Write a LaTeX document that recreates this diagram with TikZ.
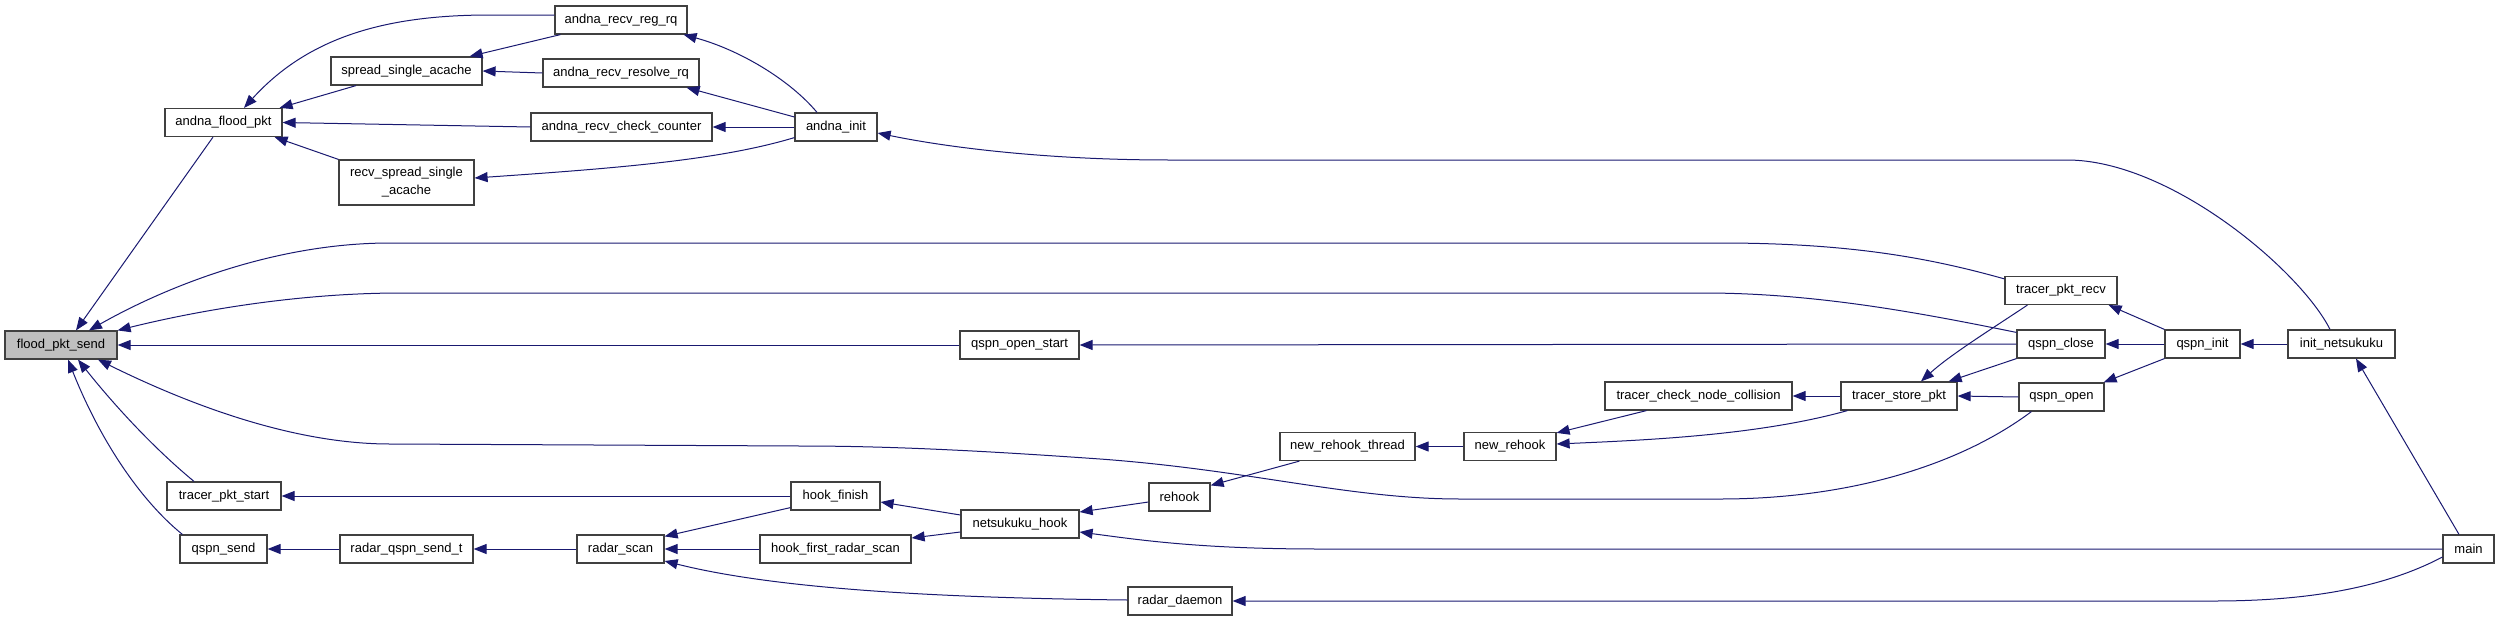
\documentclass[tikz,border=0pt]{standalone}
\usepackage{fontspec}
\setmainfont{Liberation Sans}
\usetikzlibrary{arrows.meta}
\definecolor{edgecol}{HTML}{191970}
\definecolor{boxline}{HTML}{404040}
\definecolor{focusfill}{HTML}{BFBFBF}
\tikzset{
  box/.style={draw=boxline, line width=1.2pt, fill=white, minimum height=28pt,
    inner sep=0pt, align=center, font=\fontsize{13}{18}\selectfont},
  e/.style={draw=edgecol, line width=1pt, -{Triangle[length=13pt,width=10pt]}}
}
\begin{document}
\begin{tikzpicture}[x=1pt,y=-1pt]
\useasboundingbox (0,0) rectangle (2499,621);
% nodes
\node[box,minimum width=112pt,fill=focusfill] (fps) at (61,345) {flood\_pkt\_send};
\node[box,minimum width=117pt] (afp) at (223.5,122.5) {andna\_flood\_pkt};
\node[box,minimum width=132pt] (arrr) at (621,20) {andna\_recv\_reg\_rq};
\node[box,minimum width=151pt] (ssa) at (406.5,71) {spread\_single\_acache};
\node[box,minimum width=156pt] (arres) at (621,73) {andna\_recv\_resolve\_rq};
\node[box,minimum width=181pt] (arcc) at (621.5,127) {andna\_recv\_check\_counter};
\node[box,minimum width=82pt] (ai) at (836,127) {andna\_init};
\node[box,minimum width=135pt,minimum height=45pt] (rssa) at (406.5,182.5) {recv\_spread\_single\\\_acache};
\node[box,minimum width=119pt] (qos) at (1019.5,345) {qspn\_open\_start};
\node[box,minimum width=114pt] (tps) at (224,496) {tracer\_pkt\_start};
\node[box,minimum width=87pt] (qs) at (223.5,549) {qspn\_send};
\node[box,minimum width=133pt] (rqst) at (406.5,549) {radar\_qspn\_send\_t};
\node[box,minimum width=87pt] (rs) at (620.5,549) {radar\_scan};
\node[box,minimum width=89pt] (hf) at (835.5,496) {hook\_finish};
\node[box,minimum width=151pt] (hfrs) at (835.5,549) {hook\_first\_radar\_scan};
\node[box,minimum width=104pt] (rd) at (1180,601) {radar\_daemon};
\node[box,minimum width=118pt] (nh) at (1020,524) {netsukuku\_hook};
\node[box,minimum width=61pt] (rh) at (1179.5,497) {rehook};
\node[box,minimum width=135pt] (nrt) at (1347.5,446.5) {new\_rehook\_thread};
\node[box,minimum width=92pt] (nr) at (1510,446.5) {new\_rehook};
\node[box,minimum width=187pt] (tcnc) at (1698.5,396) {tracer\_check\_node\_collision};
\node[box,minimum width=116pt] (tsp) at (1899,396) {tracer\_store\_pkt};
\node[box,minimum width=112pt] (tpr) at (2061,290.5) {tracer\_pkt\_recv};
\node[box,minimum width=88pt] (qc) at (2061,344) {qspn\_close};
\node[box,minimum width=85pt] (qo) at (2061.5,397) {qspn\_open};
\node[box,minimum width=75pt] (qi) at (2202.5,344) {qspn\_init};
\node[box,minimum width=107pt] (inn) at (2341.5,344) {init\_netsukuku};
\node[box,minimum width=51pt] (mn) at (2468.5,549) {main};
% edges into flood_pkt_send
\draw[e] ([xshift=-10.5pt]afp.south) -- ([xshift=15pt]fps.north);
\draw[e] ([yshift=-3pt]tpr.north west) .. controls (1930,258) and (1850,243) .. (1720,243)
  -- (390,243) .. controls (270,243) and (160,290) .. ([xshift=28pt]fps.north);
\draw[e] ([yshift=-3pt]qc.north west) .. controls (1930,315) and (1820,293) .. (1704,293)
  -- (401,293) .. controls (300,293) and (200,310) .. (fps.north east);
\draw[e] (qos.west) -- (fps.east);
\draw[e] ([xshift=13pt]qo.south west) .. controls (1960,465) and (1850,499) .. (1720,499)
  -- (1460,499) .. controls (1350,499) and (1250,470) .. (1100,459)
  .. controls (1000,452) and (900,446) .. (800,446) -- (390,444)
  .. controls (300,444) and (200,410) .. ([xshift=37pt]fps.south);
\draw[e] ([xshift=-30pt]tps.north) .. controls (150,445) and (110,400) .. ([xshift=17pt]fps.south);
\draw[e] ([xshift=3pt]qs.north west) .. controls (140,500) and (100,440) .. ([xshift=7pt]fps.south);
% andna part
\draw[e] ([xshift=-50.5pt]ssa.south) -- ([xshift=-3pt]afp.north east);
\draw[e] ([yshift=5pt]arrr.west) -- (490,15) .. controls (390,15) and (310,35) .. ([xshift=20.5pt]afp.north);
\draw[e] (arcc.west) -- (afp.east);
\draw[e] (rssa.north west) -- ([xshift=-8pt]afp.south east);
\draw[e] ([xshift=6pt]arrr.south west) -- ([xshift=-13pt]ssa.north east);
\draw[e] (arres.west) -- (ssa.east);
\draw[e] ([xshift=-19pt]ai.north) .. controls (790,80) and (740,50) .. ([xshift=-4pt]arrr.south east);
\draw[e] ([yshift=10pt]ai.west) -- ([xshift=-13pt]arres.south east);
\draw[e] (ai.west) -- (arcc.east);
\draw[e] ([yshift=4pt]ai.south west) .. controls (720,160) and (620,168) .. ([yshift=4.5pt]rssa.east);
\draw[e] ([xshift=-11.5pt]inn.north) .. controls (2300,270) and (2170,160) .. (2067,160)
  -- (1169,160) .. controls (1050,160) and (950,148) .. ([yshift=-6pt]ai.east);
% qspn / tracer part
\draw[e] (qc.west) -- (qos.east);
\draw[e] ([xshift=23pt]tpr.south west) .. controls (1990,330) and (1950,355) .. ([xshift=22pt]tsp.north);
\draw[e] (qi.north west) -- ([xshift=-9pt]tpr.south east);
\draw[e] (qc.south west) -- ([xshift=-9pt]tsp.north east);
\draw[e] (qo.west) -- (tsp.east);
\draw[e] (tsp.west) -- (tcnc.east);
\draw[e] (qi.west) -- (qc.east);
\draw[e] (qi.south west) -- ([xshift=-1pt]qo.north east);
\draw[e] (inn.west) -- (qi.east);
\draw[e] ([xshift=-9.5pt]mn.north) -- ([xshift=14.5pt]inn.south);
% hook part
\draw[e] (mn.west) -- (1320,549) .. controls (1200,549) and (1140,540) .. ([yshift=-8pt]nh.east);
\draw[e] ([yshift=-8pt]mn.west) .. controls (2380,590) and (2300,601) .. (2214,601) -- (rd.east);
\draw[e] ([xshift=7pt]tsp.south west) .. controls (1760,435) and (1650,440) .. ([yshift=2.5pt]nr.east);
\draw[e] ([xshift=42pt]tcnc.south west) -- ([yshift=-1pt]nr.north east);
\draw[e] (nr.west) -- (nrt.east);
\draw[e] ([xshift=20pt]nrt.south west) -- ([yshift=-3pt]rh.north east);
\draw[e] ([yshift=-5pt]rh.west) -- ([yshift=12pt]nh.east);
\draw[e] ([yshift=9pt]nh.west) -- ([yshift=-6pt]hf.east);
\draw[e] ([yshift=-8pt]nh.west) -- ([yshift=11pt]hfrs.east);
\draw[e] (hf.west) -- (tps.east);
\draw[e] ([yshift=3pt]hf.south west) -- ([yshift=-2pt]rs.north east);
\draw[e] (hfrs.west) -- (rs.east);
\draw[e] ([yshift=1pt]rd.west) .. controls (950,598) and (780,590) .. ([yshift=-12pt]rs.east);
\draw[e] (rs.west) -- (rqst.east);
\draw[e] (rqst.west) -- (qs.east);
\end{tikzpicture}
\end{document}
